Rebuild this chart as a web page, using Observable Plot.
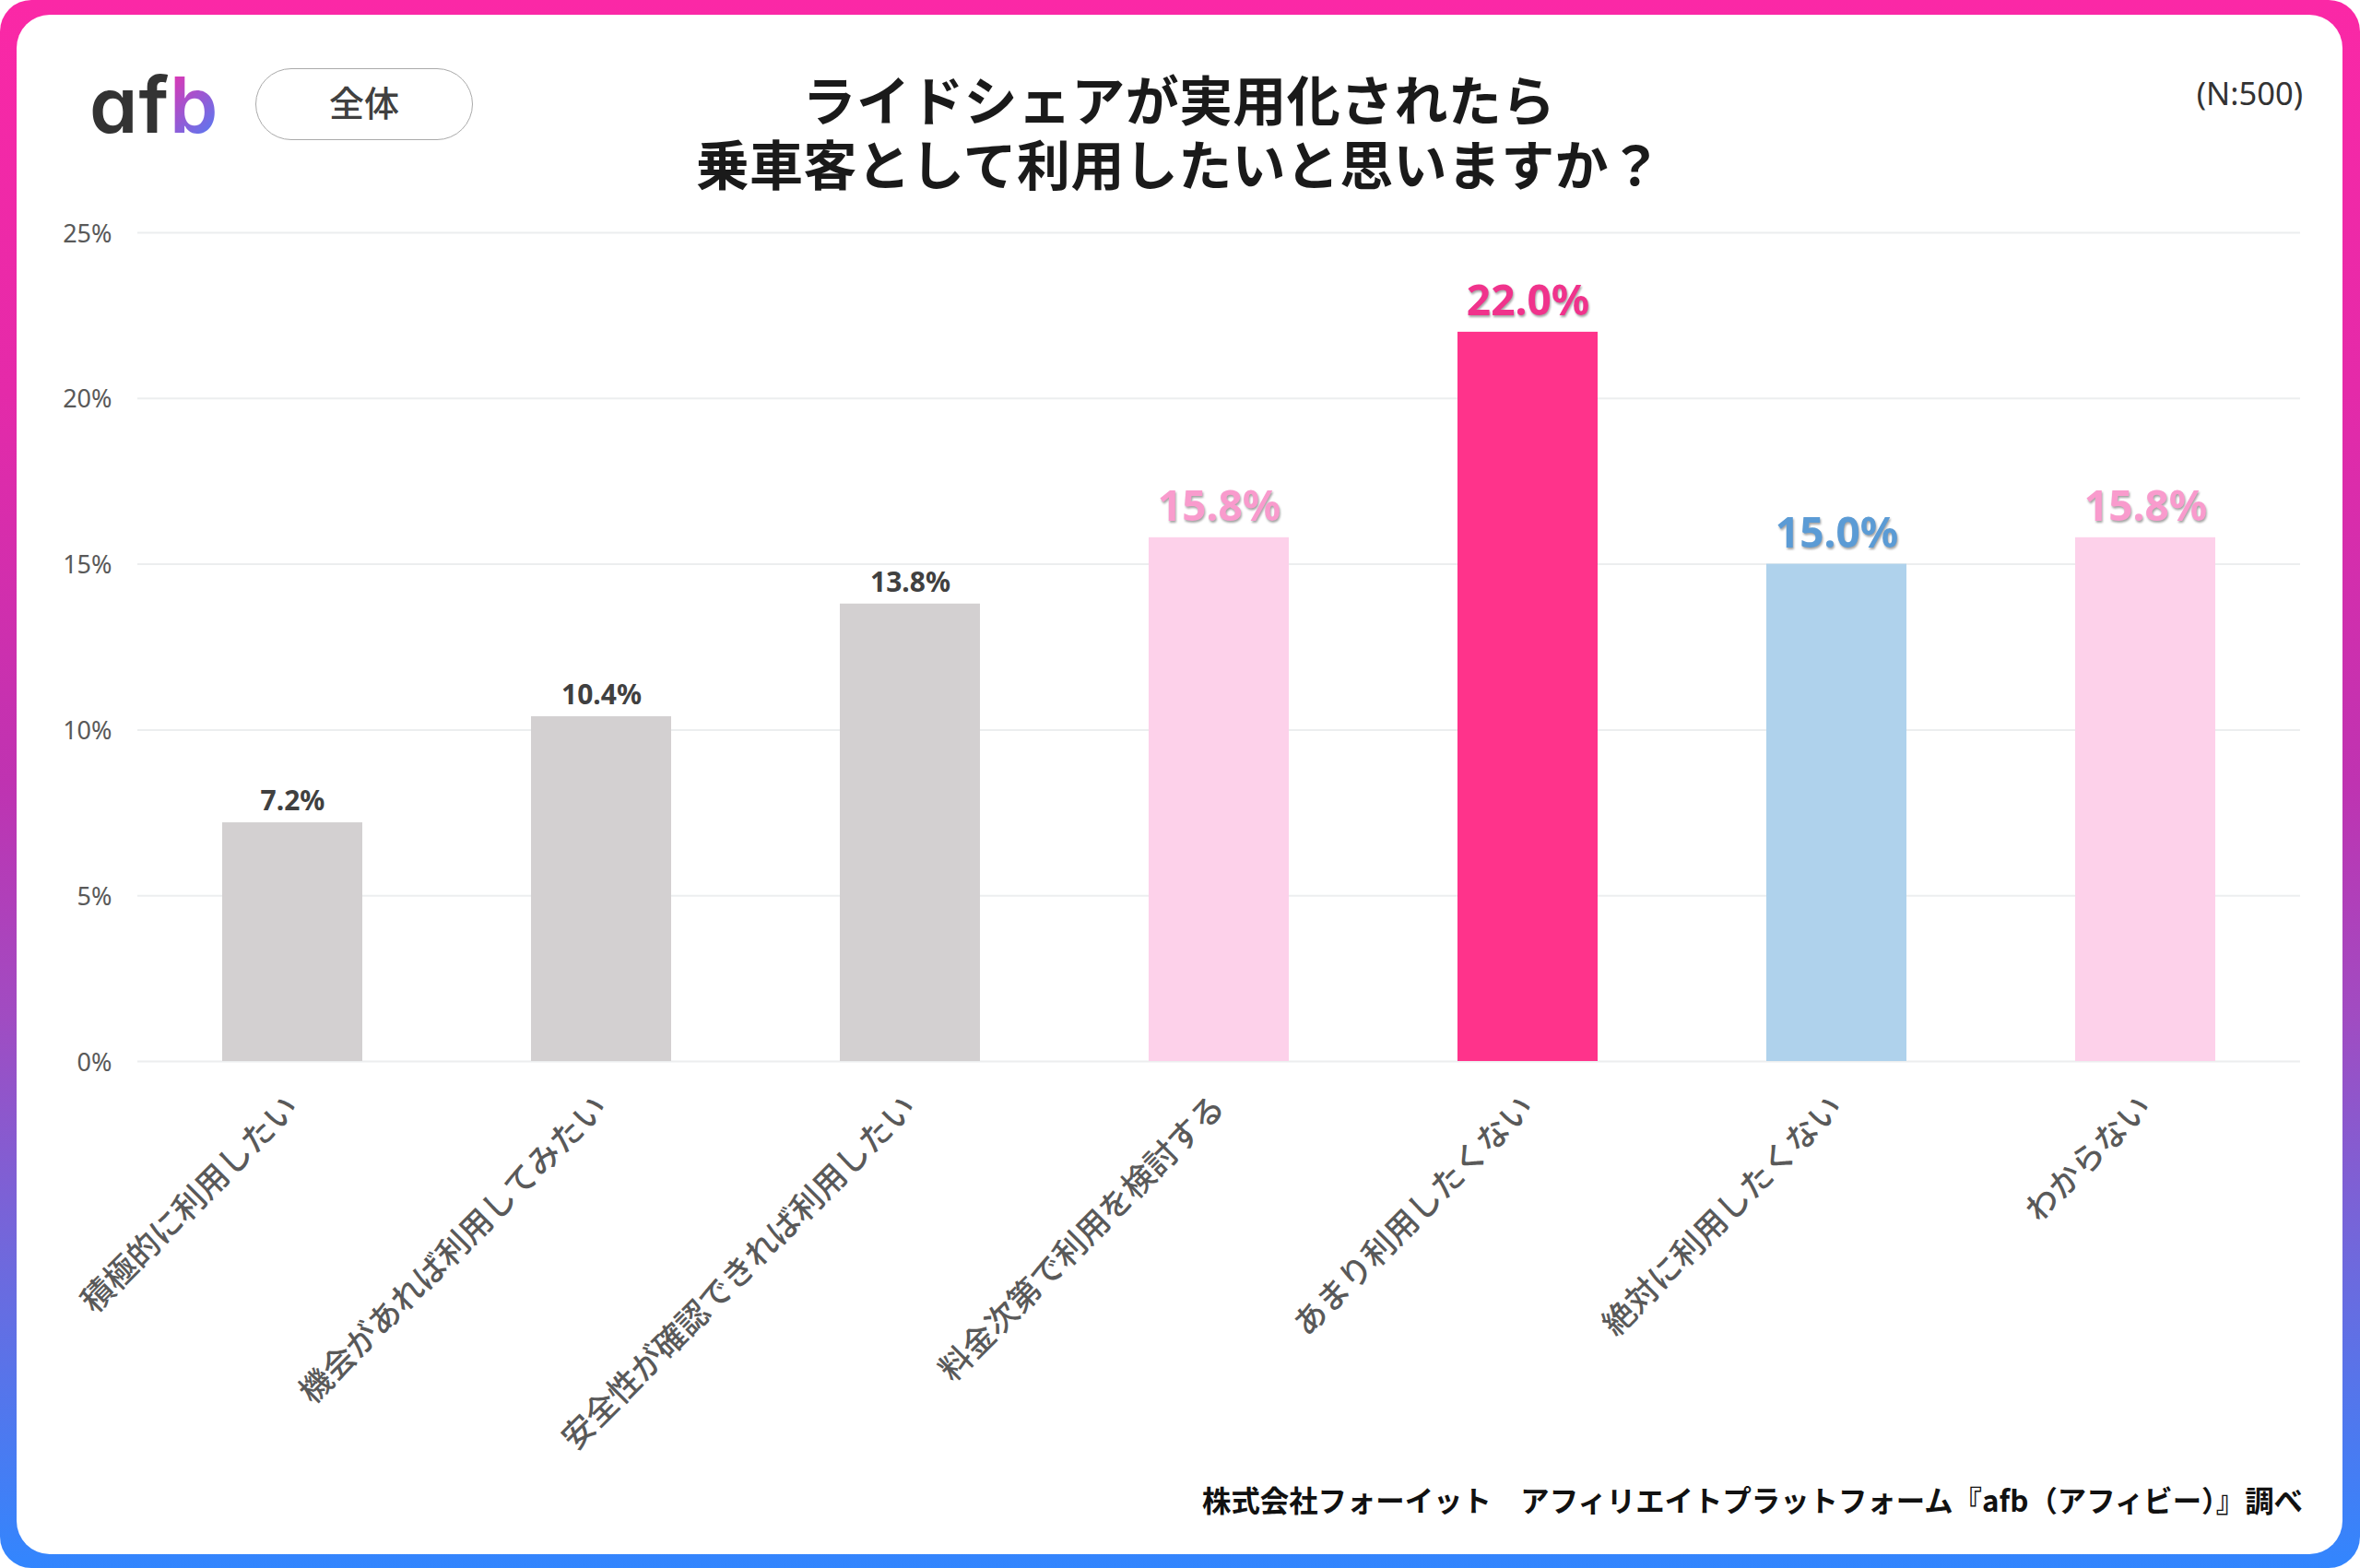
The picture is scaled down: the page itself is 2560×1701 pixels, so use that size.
<!DOCTYPE html>
<html lang="ja">
<head>
<meta charset="utf-8">
<script src="https://cdn.jsdelivr.net/npm/d3@7"></script>
<script src="https://cdn.jsdelivr.net/npm/@observablehq/plot@0.6"></script>
<style>
html,body{margin:0;padding:0;background:#fff;}
body{width:2560px;height:1701px;position:relative;overflow:hidden;font-family:"Noto Sans CJK JP","Noto Sans",sans-serif;}
#frame{position:absolute;inset:0;border-radius:34px;background:linear-gradient(180deg,#fb28a6 0%,#e42aa9 25%,#bf33b1 50%,#a04cc2 65%,#7068dc 80%,#3286fe 100%);}
#panel{position:absolute;left:18px;top:16px;right:19px;bottom:15px;border-radius:36px;background:#fff;}
#chart{position:absolute;left:0;top:0;}
.abs{position:absolute;white-space:nowrap;}
#logo{left:97px;top:64px;font:600 84px/1.2 Inter,Lato,sans-serif;font-feature-settings:"cv11";letter-spacing:1px;color:#333;}
#logo b{font-weight:600;background:linear-gradient(135deg,#f72aa8,#3a88ff);-webkit-background-clip:text;background-clip:text;color:transparent;}
#pill{left:277px;top:74px;width:236px;height:78px;box-sizing:border-box;border:1.5px solid #aaa;border-radius:39px;text-align:center;font-size:38px;line-height:69px;font-weight:500;color:#404040;}
#title{left:479px;width:1600px;top:71px;text-align:center;font-size:58px;font-weight:700;letter-spacing:0.35px;color:#1a1a1a;}
#title div{height:70px;line-height:70px;}
#n{right:62px;top:78px;font:400 34.5px/46px "Noto Sans",sans-serif;color:#333;}
#source{right:62px;top:1604px;font-size:31.4px;line-height:46px;font-weight:700;color:#111;}
</style>
</head>
<body>
<div id="frame"></div>
<div id="panel"></div>
<div id="chart"></div>
<div class="abs" id="logo">af<b>b</b></div>
<div class="abs" id="pill"></div>
<div class="abs" id="title"></div>
<div class="abs" id="n"></div>
<div class="abs" id="source"></div>
<script>
const categories = ["積極的に利用したい","機会があれば利用してみたい","安全性が確認できれば利用したい","料金次第で利用を検討する","あまり利用したくない","絶対に利用したくない","わからない"];
const values = [7.2,10.4,13.8,15.8,22.0,15.0,15.8];
const tones = ["neutral","neutral","neutral","soft","strong","cool","soft"];
const yTicks = [0,5,10,15,20,25];
const toneNames = ["neutral","soft","strong","cool"];
const barColors = ["#d3d0d1","#fdd1ea","#ff338b","#afd2ec"];
const labelColors = ["#404040","#f99bcd","#f0338c","#5b9bd5"];
const titleLines = ["ライドシェアが実用化されたら","乗車客として利用したいと思いますか？"];
const segmentLabel = "全体";
const sampleLabel = "(N:500)";
const sourceLabel = "株式会社フォーイット　アフィリエイトプラットフォーム『afb（アフィビー）』調べ";

const titleBox = document.getElementById("title");
titleLines.forEach(line => { const el = document.createElement("div"); el.textContent = line; titleBox.appendChild(el); });
document.getElementById("pill").textContent = segmentLabel;
document.getElementById("n").textContent = sampleLabel;
document.getElementById("source").textContent = sourceLabel;

const rows = categories.map((category,i)=>({category,value:values[i],tone:tones[i]}));
const fmt = d => d.value.toFixed(1)+"%";
const labelMark = (tone,size,shadow) => Plot.text(rows.filter(d=>d.tone===tone),{
  x:"category", y:"value", text:fmt, dy: -(size*0.5+(shadow?10:8)),
  fill: labelColors[toneNames.indexOf(tone)],
  fontSize:size, fontWeight:700,
  fontFamily:'"Noto Sans",sans-serif',
  imageFilter: shadow ? "drop-shadow(1px 2px 1px rgba(90,90,90,.55))" : undefined
});

const plot = Plot.plot({
  width:2560, height:1701,
  marginLeft:149, marginRight:65, marginTop:252, marginBottom:550,
  style:{background:"transparent",fontFamily:'"Noto Sans CJK JP","Noto Sans",sans-serif'},
  x:{domain:categories,paddingInner:0.547,paddingOuter:0.2735,label:null},
  y:{domain:[0,25],label:null},
  color:{domain:toneNames,range:barColors},
  marks:[
    Plot.ruleY(yTicks,{stroke:"#eceeef",strokeWidth:2}),
    Plot.barY(rows,{x:"category",y:"value",fill:"tone"}),
    Plot.axisY({ticks:yTicks,tickFormat:d=>d+"%",tickSize:0,tickPadding:28,dy:1.5,fontSize:27,fill:"#595959",label:null,fontFamily:'"Noto Sans",sans-serif'}),
    Plot.axisX({tickRotate:-45,tickSize:0,tickPadding:44,fontSize:35,fontWeight:500,fill:"#595959",label:null,lineWidth:40}),
    labelMark("neutral",30,false),
    labelMark("soft",46,true),
    labelMark("strong",46,true),
    labelMark("cool",46,true)
  ]
});
document.getElementById("chart").appendChild(plot);
</script>
</body>
</html>
